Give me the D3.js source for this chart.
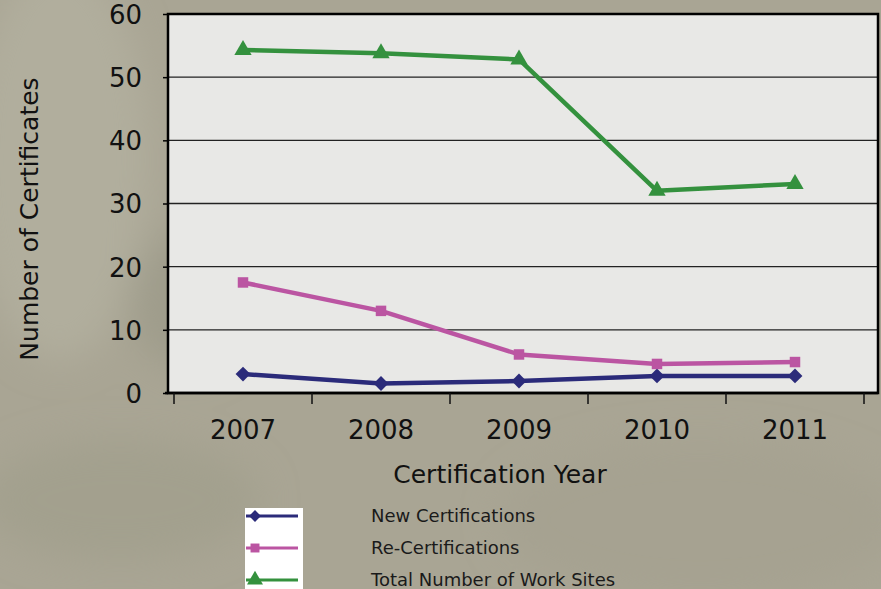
<!DOCTYPE html>
<html>
<head>
<meta charset="utf-8">
<script src="https://cdn.jsdelivr.net/npm/d3@7"></script>
<style>
  body { margin: 0; background: #a8a594; }
  svg { display: block; font-family: "DejaVu Sans", Verdana, sans-serif; }
</style>
</head>
<body>
<svg id="chart" width="881" height="589"></svg>
<script>
// chart data
const years = ["2007", "2008", "2009", "2010", "2011"];
const newCerts = [3, 1.5, 1.9, 2.7, 2.7];
const reCerts = [17.5, 13, 6.1, 4.6, 4.9];
const workSites = [54.3, 53.8, 52.8, 32, 33.1];
const yTicks = [0, 10, 20, 30, 40, 50, 60];

const seriesNames = ["New Certifications", "Re-Certifications", "Total Number of Work Sites"];
const seriesColors = ["#2b2b7a", "#bb55a2", "#34913e"];
const seriesSymbols = [d3.symbolSquare, d3.symbolSquare, d3.symbolTriangle];
const seriesRotate = [45, 0, 0];

let svg = d3.select("#chart");

// soft blurry backdrop, like the photo behind the slide
let defs = svg.append("defs");
let blur = defs.append("filter").attr("id", "blur")
    .attr("x", "-50%").attr("y", "-50%").attr("width", "200%").attr("height", "200%");
blur.append("feGaussianBlur").attr("stdDeviation", 18);

svg.append("rect").attr("width", 881).attr("height", 589).attr("fill", "#a9a594");
let bg = svg.append("g").attr("filter", "url(#blur)");
bg.append("ellipse").attr("cx", 60).attr("cy", 160).attr("rx", 90).attr("ry", 200).attr("fill", "#b1ae9d");
bg.append("ellipse").attr("cx", 190).attr("cy", 300).attr("rx", 60).attr("ry", 70).attr("fill", "#9f9c8b");
bg.append("ellipse").attr("cx", 120).attr("cy", 500).attr("rx", 140).attr("ry", 60).attr("fill", "#a3a08e");
bg.append("ellipse").attr("cx", 700).attr("cy", 520).attr("rx", 200).attr("ry", 80).attr("fill", "#a6a291");

let plot = { left: 168, top: 14, right: 878, bottom: 393 };

let x = d3.scaleBand().domain(years).range([174, 864]);
let y = d3.scaleLinear().domain([0, 60]).range([plot.bottom, plot.top]);

// plot background
svg.append("rect")
    .attr("x", plot.left).attr("y", plot.top)
    .attr("width", plot.right - plot.left).attr("height", plot.bottom - plot.top)
    .attr("fill", "#e8e8e6");

// grid lines
svg.append("g")
    .selectAll("line")
    .data(yTicks.filter(d => d > 0 && d < 60))
    .enter().append("line")
    .attr("x1", plot.left).attr("x2", plot.right)
    .attr("y1", d => y(d)).attr("y2", d => y(d))
    .attr("stroke", "#222").attr("stroke-width", 1.3);

// plot frame
svg.append("rect")
    .attr("x", plot.left).attr("y", plot.top)
    .attr("width", plot.right - plot.left).attr("height", plot.bottom - plot.top)
    .attr("fill", "none").attr("stroke", "#000").attr("stroke-width", 2.5);

// y axis
let yAxis = svg.append("g")
    .attr("transform", "translate(" + plot.left + ",0)")
    .call(d3.axisLeft(y).tickValues(yTicks).tickSize(5).tickPadding(21));
yAxis.select(".domain").remove();
yAxis.selectAll("line").attr("stroke", "#000").attr("stroke-width", 1.5);
yAxis.selectAll("text").attr("font-size", 26).attr("fill", "#111")
    .attr("font-family", "DejaVu Sans, Verdana, sans-serif").attr("dy", "0.36em");

// x axis with ticks between categories
let xAxis = svg.append("g").attr("transform", "translate(0," + plot.bottom + ")");
xAxis.append("line")
    .attr("x1", plot.left - 3).attr("x2", plot.right)
    .attr("stroke", "#000").attr("stroke-width", 2.5);
let edges = years.map(d => x(d)).concat([x.range()[1]]);
xAxis.selectAll(".tick")
    .data(edges)
    .enter().append("line")
    .attr("x1", d => d).attr("x2", d => d)
    .attr("y1", 0).attr("y2", 11)
    .attr("stroke", "#111").attr("stroke-width", 1.5);
xAxis.selectAll("text")
    .data(years)
    .enter().append("text")
    .attr("x", d => x(d) + x.bandwidth() / 2)
    .attr("y", 46)
    .attr("text-anchor", "middle")
    .attr("font-size", 26).attr("fill", "#111")
    .text(d => d);

// axis titles
svg.append("text")
    .attr("transform", "translate(38,219) rotate(-90)")
    .attr("text-anchor", "middle")
    .attr("font-size", 25).attr("fill", "#111")
    .text("Number of Certificates");

svg.append("text")
    .attr("x", 500).attr("y", 483)
    .attr("text-anchor", "middle")
    .attr("font-size", 25).attr("fill", "#111")
    .text("Certification Year");

// lines + markers
let allSeries = [newCerts, reCerts, workSites];
let line = d3.line()
    .x((d, i) => x(years[i]) + x.bandwidth() / 2)
    .y(d => y(d));

allSeries.forEach((vals, k) => {
    svg.append("path")
        .datum(vals)
        .attr("d", line)
        .attr("fill", "none")
        .attr("stroke", seriesColors[k])
        .attr("stroke-width", 4.5)
        .attr("stroke-linejoin", "round");
    let sizes = [110, 110, 130];
    svg.append("g").selectAll("path")
        .data(vals)
        .enter().append("path")
        .attr("transform", (d, i) => "translate(" + (x(years[i]) + x.bandwidth() / 2) + "," + y(d) + ") rotate(" + seriesRotate[k] + ")")
        .attr("d", d3.symbol().type(seriesSymbols[k]).size(sizes[k]))
        .attr("fill", seriesColors[k]);
});

// legend
let legend = svg.append("g");
legend.append("rect")
    .attr("x", 245).attr("y", 508).attr("width", 58).attr("height", 81)
    .attr("fill", "#fff");
let rowY = [516, 548, 580];
seriesNames.forEach((name, k) => {
    legend.append("line")
        .attr("x1", 246).attr("x2", 298)
        .attr("y1", rowY[k]).attr("y2", rowY[k])
        .attr("stroke", seriesColors[k]).attr("stroke-width", 3);
    legend.append("path")
        .attr("transform", "translate(255," + rowY[k] + ") rotate(" + seriesRotate[k] + ")")
        .attr("d", d3.symbol().type(seriesSymbols[k]).size([70, 80, 110][k]))
        .attr("fill", seriesColors[k]);
    legend.append("text")
        .attr("x", 371).attr("y", rowY[k] + 6)
        .attr("font-size", 18).attr("fill", "#1a1a1a")
        .text(name);
});
</script>
</body>
</html>
